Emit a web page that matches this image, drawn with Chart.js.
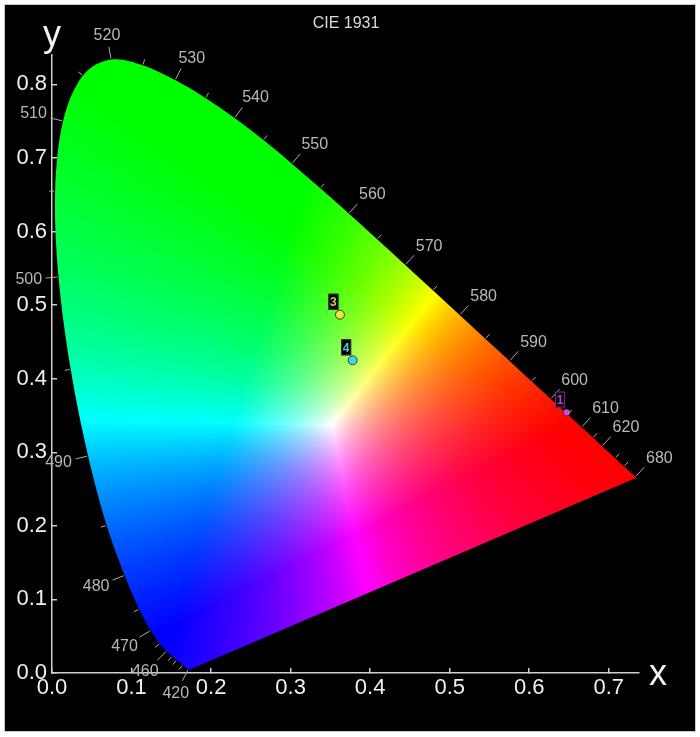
<!DOCTYPE html>
<html>
<head>
<meta charset="utf-8">
<title>CIE 1931</title>
<script src="https://cdn.jsdelivr.net/npm/chart.js@4.4.1/dist/chart.umd.min.js"></script>
<style>
  html, body { margin: 0; padding: 0; background: #fff; }
  #wrap { width: 700px; height: 737px; }
</style>
</head>
<body>
<div id="wrap"><canvas id="cie" width="700" height="737"></canvas></div>
<script>
// spectral locus (CIE 1931 2°), wavelength in nm
const locusNm = [380, 385, 390, 395, 400, 405, 410, 415, 420, 425, 430, 435, 440, 445, 450, 455, 460, 465, 470, 475,
    480, 485, 490, 495, 500, 505, 510, 515, 520, 525, 530, 535, 540, 545, 550, 555, 560, 565, 570, 575,
    580, 585, 590, 595, 600, 605, 610, 615, 620, 625, 630, 635, 640, 645, 650, 655, 660, 665, 670, 675,
    680, 685, 690, 695, 700];
const locusX = [0.1741, 0.1740, 0.1738, 0.1736, 0.1733, 0.1730, 0.1726, 0.1721, 0.1714, 0.1703,
    0.1689, 0.1669, 0.1644, 0.1611, 0.1566, 0.1510, 0.1440, 0.1355, 0.1241, 0.1096,
    0.0913, 0.0687, 0.0454, 0.0235, 0.0082, 0.0039, 0.0139, 0.0389, 0.0743, 0.1142,
    0.1547, 0.1929, 0.2296, 0.2658, 0.3016, 0.3373, 0.3731, 0.4087, 0.4441, 0.4788,
    0.5125, 0.5448, 0.5752, 0.6029, 0.6270, 0.6482, 0.6658, 0.6801, 0.6915, 0.7006,
    0.7079, 0.7140, 0.7190, 0.7230, 0.7260, 0.7283, 0.7300, 0.7311, 0.7320, 0.7327,
    0.7334, 0.7340, 0.7344, 0.7346, 0.7347];
const locusY = [0.0050, 0.0050, 0.0049, 0.0049, 0.0048, 0.0048, 0.0048, 0.0048, 0.0051, 0.0058,
    0.0069, 0.0086, 0.0109, 0.0138, 0.0177, 0.0227, 0.0297, 0.0399, 0.0578, 0.0868,
    0.1327, 0.2007, 0.2950, 0.4127, 0.5384, 0.6548, 0.7502, 0.8120, 0.8338, 0.8262,
    0.8059, 0.7816, 0.7543, 0.7243, 0.6923, 0.6589, 0.6245, 0.5896, 0.5547, 0.5202,
    0.4866, 0.4544, 0.4242, 0.3965, 0.3725, 0.3514, 0.3340, 0.3197, 0.3083, 0.2993,
    0.2920, 0.2859, 0.2809, 0.2770, 0.2740, 0.2717, 0.2700, 0.2689, 0.2680, 0.2673,
    0.2666, 0.2660, 0.2656, 0.2654, 0.2653];

// wavelength marks on the locus
const labelledNm = [420, 460, 470, 480, 490, 500, 510, 520, 530, 540, 550, 560, 570, 580, 590, 600, 610, 620, 680];
const minorNm = [440, 450, 455, 465, 475, 485, 495, 505, 515, 525, 535, 545, 555, 565, 575, 585, 595, 605, 615, 630, 640];

// measured points
const pointNames = ['1', '3', '4'];
const pointX = [0.647, 0.362, 0.378];
const pointY = [0.354, 0.487, 0.425];
const pointFill = ['#dc3ee0', '#f0e43c', '#42d4e4'];
const pointText = ['#c43ad0', '#d8c860', '#52c8dc'];
const pointSize = [3.5, 4.5, 4.5];

// axis ranges
const xMax = 0.738;
const yMax = 0.84;

// colour model for the fill (sRGB primaries, white where the picture's seams meet)
const primaries = [[0.64, 0.33], [0.30, 0.60], [0.15, 0.06]];
const whitePoint = [0.352, 0.337];

function inv3(m) {
    const [a, b, c] = m[0], [d, e, f] = m[1], [g, h, i] = m[2];
    const A = e * i - f * h, B = -(d * i - f * g), C = d * h - e * g;
    const det = a * A + b * B + c * C;
    return [
        [A / det, -(b * i - c * h) / det, (b * f - c * e) / det],
        [B / det, (a * i - c * g) / det, -(a * f - c * d) / det],
        [C / det, -(a * h - b * g) / det, (a * e - b * d) / det]
    ];
}
function mulv(m, v) {
    return m.map(r => r[0] * v[0] + r[1] * v[1] + r[2] * v[2]);
}
function xyz([x, y]) {
    return [x / y, 1, (1 - x - y) / y];
}
function buildToRgb() {
    const cols = primaries.map(xyz);
    const P = [0, 1, 2].map(r => cols.map(c => c[r]));
    const S = mulv(inv3(P), xyz(whitePoint));
    return inv3(P.map(row => row.map((v, k) => v * S[k])));
}
const toRgb = buildToRgb();

function chromaColor(x, y) {
    if (y <= 0.0005) y = 0.0005;
    const c = mulv(toRgb, xyz([x, y])).map(v => Math.max(0, v));
    const m = Math.max(c[0], c[1], c[2]) || 1;
    return c.map(v => Math.round(255 * v / m));
}

// smooth path through the locus points (catmull-rom), closed by the purple line
function locusPath(ctx, pts) {
    ctx.beginPath();
    ctx.moveTo(pts[0].x, pts[0].y);
    for (let i = 0; i < pts.length - 1; i++) {
        const p0 = pts[Math.max(0, i - 1)], p1 = pts[i], p2 = pts[i + 1], p3 = pts[Math.min(pts.length - 1, i + 2)];
        ctx.bezierCurveTo(
            p1.x + (p2.x - p0.x) / 6, p1.y + (p2.y - p0.y) / 6,
            p2.x - (p3.x - p1.x) / 6, p2.y - (p3.y - p1.y) / 6,
            p2.x, p2.y);
    }
    ctx.closePath();
}

// paints the horseshoe using the locus points placed by the scales
const gamutFill = {
    id: 'gamutFill',
    beforeDatasetsDraw(chart) {
        const { ctx, chartArea: a, scales } = chart;
        const pts = chart.getDatasetMeta(0).data;
        const w = Math.ceil(a.right - a.left), h = Math.ceil(a.bottom - a.top);
        const off = document.createElement('canvas');
        off.width = w;
        off.height = h;
        const octx = off.getContext('2d');
        const img = octx.createImageData(w, h);
        for (let j = 0; j < h; j++) {
            const yv = scales.y.getValueForPixel(a.top + j + 0.5);
            for (let i = 0; i < w; i++) {
                const xv = scales.x.getValueForPixel(a.left + i + 0.5);
                const c = chromaColor(xv, yv);
                const k = (j * w + i) * 4;
                img.data[k] = c[0];
                img.data[k + 1] = c[1];
                img.data[k + 2] = c[2];
                img.data[k + 3] = 255;
            }
        }
        octx.putImageData(img, 0, 0);
        ctx.save();
        locusPath(ctx, pts);
        ctx.clip();
        ctx.drawImage(off, a.left, a.top);
        ctx.restore();
    }
};

// wavelength ticks + labels, perpendicular to the locus
const wavelengthMarks = {
    id: 'wavelengthMarks',
    afterDatasetsDraw(chart) {
        const { ctx, scales } = chart;
        const pts = chart.getDatasetMeta(0).data;
        const wx = scales.x.getPixelForValue(whitePoint[0]);
        const wy = scales.y.getPixelForValue(whitePoint[1]);
        ctx.save();
        ctx.strokeStyle = '#aaaaaa';
        ctx.fillStyle = '#b8b8b8';
        ctx.lineWidth = 1;
        ctx.font = '16px "Liberation Sans", Arial, sans-serif';
        ctx.textAlign = 'center';
        ctx.textBaseline = 'middle';
        const mark = (nmv, len, label) => {
            const i = locusNm.indexOf(nmv);
            const p = pts[i], a = pts[i - 1], b = pts[i + 1];
            let nx = -(b.y - a.y), ny = b.x - a.x;
            const l = Math.hypot(nx, ny);
            nx /= l;
            ny /= l;
            if (nx * (p.x - wx) + ny * (p.y - wy) < 0) {
                nx = -nx;
                ny = -ny;
            }
            ctx.beginPath();
            ctx.moveTo(p.x + nx, p.y + ny);
            ctx.lineTo(p.x + nx * len, p.y + ny * len);
            ctx.stroke();
            if (label) {
                const tw = ctx.measureText(label).width;
                const ext = Math.abs(nx) * tw / 2 + Math.abs(ny) * 6;
                const shift = nx > 0 ? 4 : 0;
                ctx.fillText(label, p.x + nx * (len + 3 + ext) + shift, p.y + ny * (len + 3 + ext) + shift * 0.8);
            }
        };
        minorNm.forEach(v => mark(v, 6));
        labelledNm.forEach(v => mark(v, 13, String(v)));
        ctx.restore();
    }
};

// numbered tags next to the measured points
const pointTags = {
    id: 'pointTags',
    afterDatasetsDraw(chart) {
        const { ctx } = chart;
        const pts = chart.getDatasetMeta(1).data;
        ctx.save();
        ctx.font = 'bold 12px "Liberation Sans", Arial, sans-serif';
        ctx.textAlign = 'center';
        ctx.textBaseline = 'middle';
        pts.forEach((p, i) => {
            const cx = p.x - 6.5, cy = p.y - 13;
            ctx.fillStyle = '#000';
            ctx.fillRect(cx - 5, cy - 8, 10, 16);
            ctx.strokeStyle = i === 0 ? '#8a2a9c' : '#333';
            ctx.lineWidth = 1;
            ctx.strokeRect(cx - 5 + 0.5, cy - 8 + 0.5, 9, 15);
            ctx.fillStyle = pointText[i];
            ctx.fillText(pointNames[i], cx, cy + 1);
        });
        ctx.restore();
    }
};

// black panel, frame and free texts
const panel = {
    id: 'panel',
    beforeDraw(chart) {
        const { ctx, width, height } = chart;
        ctx.save();
        ctx.fillStyle = '#fff';
        ctx.fillRect(0, 0, width, height);
        ctx.fillStyle = '#000';
        ctx.fillRect(4, 4, width - 8, height - 9);
        ctx.strokeStyle = '#c8c8c8';
        ctx.lineWidth = 1;
        ctx.strokeRect(4.5, 4.5, width - 9, height - 10);
        ctx.restore();
    },
    afterDraw(chart) {
        const { ctx, chartArea: a } = chart;
        ctx.save();
        ctx.textAlign = 'center';
        ctx.textBaseline = 'middle';
        ctx.fillStyle = '#dcdcdc';
        ctx.font = '16px "Liberation Sans", Arial, sans-serif';
        ctx.fillText('CIE 1931', 346, 24);
        ctx.fillStyle = '#f2f2f2';
        ctx.font = '36px "Liberation Sans", Arial, sans-serif';
        ctx.fillText('y', a.left, 36);
        ctx.fillText('x', a.right + 19, a.bottom + 2);
        ctx.restore();
    }
};

const axisColor = '#cfcfcf';
const tickFont = { family: '"Liberation Sans", Arial, sans-serif', size: 22 };

new Chart(document.getElementById('cie'), {
    type: 'scatter',
    data: {
        datasets: [{
            label: 'locus',
            data: locusNm.map((n, i) => ({ x: locusX[i], y: locusY[i] })),
            showLine: false,
            pointRadius: 0,
            pointHoverRadius: 0,
            borderWidth: 0
        }, {
            label: 'points',
            data: pointNames.map((n, i) => ({ x: pointX[i], y: pointY[i] })),
            pointRadius: pointSize,
            backgroundColor: pointFill,
            borderColor: '#3a3a3a',
            borderWidth: 1
        }]
    },
    options: {
        responsive: false,
        animation: false,
        events: [],
        layout: { padding: { left: 0, top: 55, right: 61, bottom: 0 } },
        plugins: { legend: { display: false }, tooltip: { enabled: false } },
        scales: {
            x: {
                type: 'linear',
                min: 0,
                max: xMax,
                border: { color: axisColor, width: 1.5 },
                grid: { drawOnChartArea: false, color: axisColor, tickLength: -5, lineWidth: 1.5 },
                ticks: {
                    stepSize: 0.1,
                    includeBounds: false,
                    autoSkip: false,
                    maxRotation: 0,
                    padding: 7,
                    color: '#f0f0f0',
                    font: tickFont,
                    callback: v => v.toFixed(1)
                },
                afterFit(s) { s.height = 64; }
            },
            y: {
                type: 'linear',
                min: 0,
                max: yMax,
                border: { color: axisColor, width: 1.5 },
                grid: { drawOnChartArea: false, color: axisColor, tickLength: -5, lineWidth: 1.5 },
                ticks: {
                    stepSize: 0.1,
                    includeBounds: false,
                    autoSkip: false,
                    padding: 10,
                    color: '#f0f0f0',
                    font: tickFont,
                    callback: v => v.toFixed(1)
                },
                afterFit(s) { s.width = 52; }
            }
        }
    },
    plugins: [panel, gamutFill, wavelengthMarks, pointTags]
});
</script>
</body>
</html>
